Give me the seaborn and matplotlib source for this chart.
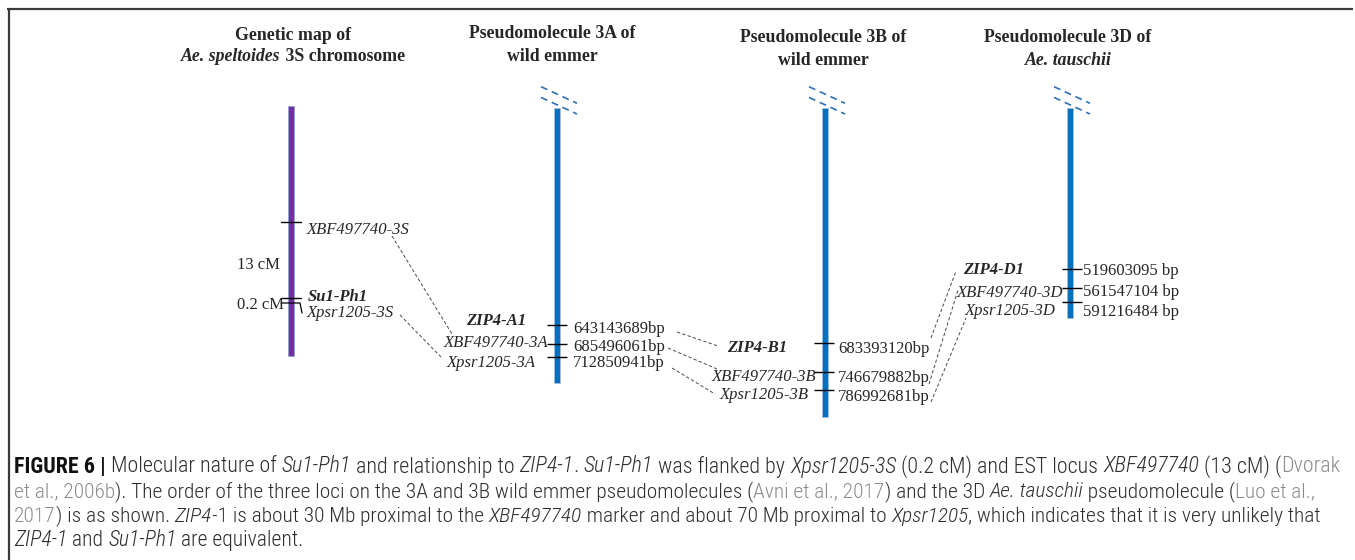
import matplotlib
matplotlib.use("Agg")
import matplotlib.pyplot as plt
from matplotlib import font_manager as fm
import seaborn as sns

# ---------------- data ----------------
panel_titles = [
    ["Genetic map of", "Ae. speltoides| 3S chromosome"],
    ["Pseudomolecule 3A of", "wild emmer"],
    ["Pseudomolecule 3B of", "wild emmer"],
    ["Pseudomolecule 3D of", "Ae. tauschii|"],
]
map_markers_3S = ["XBF497740-3S", "Su1-Ph1", "Xpsr1205-3S"]
map_intervals_3S = ["13 cM", "0.2 cM"]

pseudo_names = ["3A", "3B", "3D"]
pseudo_start_mb = [163, 163, 163]          # visible (truncated) start
pseudo_end_mb = [772, 846, 628]            # chromosome end
markers_3A = ["ZIP4-A1", "XBF497740-3A", "Xpsr1205-3A"]
markers_3B = ["ZIP4-B1", "XBF497740-3B", "Xpsr1205-3B"]
markers_3D = ["ZIP4-D1", "XBF497740-3D", "Xpsr1205-3D"]
pos_3A = [643143689, 685496061, 712850941]
pos_3B = [683393120, 746679882, 786992681]
pos_3D = [519603095, 561547104, 591216484]
bp_suffix = ["bp", "bp", " bp"]

caption_lines = [
    [("FIGURE 6 | ", "b"), ("Molecular nature of ", "n"), ("Su1-Ph1", "i"),
     (" and relationship to ", "n"), ("ZIP4-1", "i"), (". ", "n"), ("Su1-Ph1", "i"),
     (" was flanked by ", "n"), ("Xpsr1205-3S", "i"), (" (0.2 cM) and EST locus ", "n"),
     ("XBF497740", "i"), (" (13 cM) (", "n"), ("Dvorak", "g")],
    [("et al., 2006b", "g"),
     ("). The order of the three loci on the 3A and 3B wild emmer pseudomolecules (", "n"),
     ("Avni et al., 2017", "g"), (") and the 3D ", "n"), ("Ae. tauschii", "i"),
     (" pseudomolecule (", "n"), ("Luo et al.,", "g")],
    [("2017", "g"), (") is as shown. ", "n"), ("ZIP4", "i"),
     ("-1 is about 30 Mb proximal to the ", "n"), ("XBF497740", "i"),
     (" marker and about 70 Mb proximal to ", "n"), ("Xpsr1205", "i"),
     (", which indicates that it is very unlikely that", "n")],
    [("ZIP4-1", "i"), (" and ", "n"), ("Su1-Ph1", "i"), (" are equivalent.", "n")],
]

# ---------------- style ----------------
sns.set_theme(style="white")
plt.rcParams["font.family"] = ["Liberation Serif", "DejaVu Serif"]
plt.rcParams["lines.scale_dashes"] = False


def has_font(name):
    try:
        fm.findfont(fm.FontProperties(family=name), fallback_to_default=False)
        return True
    except Exception:
        return False


CAP_FONT = next((f for f in ["Liberation Sans Narrow", "Roboto Condensed", "Roboto"]
                 if has_font(f)), "DejaVu Sans")
CAPF = [CAP_FONT, "DejaVu Sans"]
LIGHT = CAP_FONT.startswith("Roboto")

W, H = 1355, 560
fig = plt.figure(figsize=(W / 100, H / 100), dpi=100)
fig.patch.set_facecolor("white")

# axis in Mb for the pseudomolecules (y_px = 34.1 + 0.4525 * Mb)
ax_mb = fig.add_axes([0, 0, 1, 1])
ax_mb.set_xlim(0, W)
ax_mb.set_ylim((H - 34.1) / 0.4525, -34.1 / 0.4525)
ax_mb.axis("off")
# pixel-layout axis for annotations
ax = fig.add_axes([0, 0, 1, 1])
ax.set_xlim(0, W)
ax.set_ylim(H, 0)
ax.axis("off")
ax.patch.set_alpha(0)

renderer = fig.canvas.get_renderer()

FS = 12
TFS = 12.8
BLUE = "#0070C0"
PURPLE = "#7030A0"
DASHC = "#4a4a4a"

# frame (top and left rules)
ax.plot([7, 1353], [8.5, 8.5], color="#3a3a3a", lw=1.6, solid_capstyle="butt")
ax.plot([8.5, 8.5], [8, 560], color="#3a3a3a", lw=1.6, solid_capstyle="butt")


def seg_width(s, **kw):
    t1 = ax.text(0, 0, "x" + s + "x", **kw)
    t2 = ax.text(0, 0, "xx", **kw)
    w = t1.get_window_extent(renderer).width - t2.get_window_extent(renderer).width
    t1.remove()
    t2.remove()
    return w


def rich(x, y, segs, ha="left"):
    widths = [seg_width(s, **kw) for s, kw in segs]
    tot = sum(widths)
    x0 = x - tot / 2 if ha == "center" else (x - tot if ha == "right" else x)
    for (s, kw), w in zip(segs, widths):
        ax.text(x0, y, s, ha="left", va="baseline", **kw)
        x0 += w
    return tot


# ---------------- titles ----------------
bar_x = [291, 557, 825, 1070]
title_cx = [293, 552, 823, 1068]
title_base = [(39.5, 61), (38.5, 61), (42.5, 65), (42.5, 65)]
for cx, (b1, b2), (l1, l2) in zip(title_cx, title_base, panel_titles):
    rich(cx, b1, [(l1, dict(fontsize=TFS, fontweight="bold"))], ha="center")
    if "|" in l2:
        it, rest = l2.split("|")
        segs = [(it, dict(fontsize=TFS, fontweight="bold", fontstyle="italic"))]
        if rest:
            segs.append((rest, dict(fontsize=TFS, fontweight="bold")))
        rich(cx, b2, segs, ha="center")
    else:
        rich(cx, b2, [(l2, dict(fontsize=TFS, fontweight="bold"))], ha="center")

# ---------------- 3S genetic map ----------------
ax.bar([bar_x[0]], [250], bottom=[106], width=6.5, color=PURPLE,
       edgecolor="#8fa6d0", linewidth=0.6)
ax.plot([281, 301], [222, 222], color="black", lw=1.0)
ax.plot([281, 301], [298, 298], color="black", lw=1.0)
ax.plot([281, 300, 302], [303, 303, 313], color="black", lw=0.9)
ax.text(307, 230, map_markers_3S[0], fontsize=FS, fontstyle="italic", va="center", ha="left")
ax.text(308, 297, map_markers_3S[1], fontsize=FS, fontstyle="italic", fontweight="bold",
        va="center", ha="left")
ax.text(307, 313, map_markers_3S[2], fontsize=FS, fontstyle="italic", va="center", ha="left")
ax.text(237, 265, map_intervals_3S[0], fontsize=FS, va="center", ha="left")
ax.text(237, 305, map_intervals_3S[1], fontsize=FS, va="center", ha="left")

# ---------------- pseudomolecules ----------------
px = bar_x[1:]
ax_mb.bar(px, [e - s for s, e in zip(pseudo_start_mb, pseudo_end_mb)],
          bottom=pseudo_start_mb, width=6.5, color=BLUE, edgecolor="#a9bcd6",
          linewidth=0.6, zorder=3)

all_pos = [pos_3A, pos_3B, pos_3D]
all_mk = [markers_3A, markers_3B, markers_3D]
tick_cx = [557, 823.5, 1072]
right_x = [573, 838, 1083]
right_y = [[329, 347, 363], [349, 378, 397], [271, 292, 312]]
left_x = [[466, 444, 447], [727, 712, 720], [963, 957, 965]]
left_y = [[321, 343, 363], [348, 377, 395], [270, 293, 311]]

for i in range(3):
    mb = [p / 1e6 for p in all_pos[i]]
    ax_mb.hlines(mb, tick_cx[i] - 10, tick_cx[i] + 10, color="black", lw=1.0, zorder=4)
    for j in range(3):
        ax.text(right_x[i], right_y[i][j], f"{all_pos[i][j]}{bp_suffix[i]}", fontsize=FS,
                va="center", ha="left")
        kw = dict(fontsize=FS, fontstyle="italic", va="center", ha="left")
        if j == 0:
            kw["fontweight"] = "bold"
        ax.text(left_x[i][j], left_y[i][j], all_mk[i][j], **kw)
    # break marks
    c = px[i]
    for dy in (0, 10.7):
        ax.plot([c - 16, c + 20], [86.7 + dy, 103.3 + dy], color="#2E6FBA", lw=1.2,
                dashes=(5, 3.5), zorder=5)

# ---------------- dashed connectors ----------------
connectors = [
    ((392, 236), (452, 334)),
    ((400, 315), (441, 357)),
    ((677, 332), (718, 346)),
    ((668, 348), (717, 369)),
    ((672, 368), (715, 394)),
    ((931, 338), (956, 271)),
    ((929, 384), (958, 290)),
    ((931, 402), (966, 318)),
]
for (x1, y1), (x2, y2) in connectors:
    ax.plot([x1, x2], [y1, y2], color=DASHC, lw=0.7, dashes=(2.4, 1.6))

# ---------------- caption ----------------
TXT = "#2e2e2e"
GRAY = "#8c8c8c"


def cap_kw(style, fs):
    kw = dict(fontsize=fs, family=CAPF, color=TXT)
    if LIGHT:
        kw["fontweight"] = "light"
    if style == "b":
        kw.update(fontweight="bold", color="#111111")
    elif style == "i":
        kw.update(fontstyle="italic")
    elif style == "g":
        kw.update(color=GRAY)
    return kw


line_ends = [1338, 1317, 1323]
sizes = []
for line, xe in zip(caption_lines[:3], line_ends):
    w10 = sum(seg_width(s, **cap_kw(st, 10)) for s, st in line)
    sizes.append(10 * (xe - 14) / w10)
sizes.append(sum(sizes) / 3)
cap_base = [472.5, 497, 521.5, 546]
for line, yb, fs in zip(caption_lines, cap_base, sizes):
    rich(14, yb, [(s, cap_kw(st, fs)) for s, st in line])

fig.savefig("out.png", dpi=100, facecolor="white")
